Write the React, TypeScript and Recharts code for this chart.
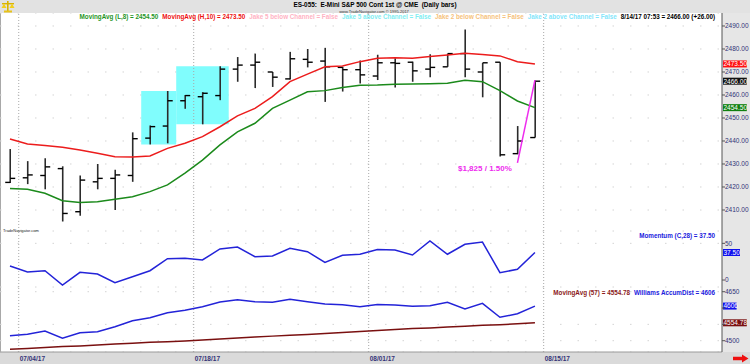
import React from 'react';
import {
  ComposedChart,
  Bar,
  Line,
  XAxis,
  YAxis,
  CartesianGrid,
  ReferenceArea,
  ReferenceLine,
} from 'recharts';

// ---------------- data ----------------
const dates = [
  '07/03/17', '07/04/17', '07/05/17', '07/06/17', '07/07/17',
  '07/10/17', '07/11/17', '07/12/17', '07/13/17', '07/14/17',
  '07/17/17', '07/18/17', '07/19/17', '07/20/17', '07/21/17',
  '07/24/17', '07/25/17', '07/26/17', '07/27/17', '07/28/17',
  '07/31/17', '08/01/17', '08/02/17', '08/03/17', '08/04/17',
  '08/07/17', '08/08/17', '08/09/17', '08/10/17', '08/11/17',
  '08/14/17',
];
const opens = [
  2422, 2424, 2425, 2428, 2409.25, 2422.25, 2423.75, 2425, 2441.25, 2446.5,
  2457.5, 2459.25, 2459.75, 2471.25, 2473, 2470, 2467, 2475.5, 2474.75, 2472,
  2471, 2468.25, 2474, 2474.25, 2471.25, 2472.25, 2478, 2470, 2474.25, 2434.5,
  2441.5,
];
const highs = [
  2436.5, 2431.25, 2432.5, 2429, 2425, 2430, 2427.5, 2443.75, 2446.75, 2461.75,
  2460, 2461.25, 2472.5, 2476.5, 2478, 2470, 2478.75, 2480, 2480.5, 2472.25,
  2475, 2477.5, 2476, 2474.5, 2477.75, 2478, 2488.5, 2474, 2474.25, 2446.5,
  2466.25,
];
const lows = [
  2421.75, 2421.25, 2419, 2405, 2407.5, 2419, 2410, 2422.25, 2438.5, 2439,
  2454, 2447.25, 2457.75, 2465.75, 2463, 2463.5, 2466.75, 2472, 2457, 2461.5,
  2465, 2466.5, 2463.25, 2465.75, 2467.75, 2472.25, 2467.75, 2459, 2433.25, 2434.25,
  2441.5,
];
const closes = [
  2423.75, 2425.25, 2428.75, 2408.5, 2423, 2423.75, 2425.25, 2441, 2446.25, 2457.5,
  2459.75, 2460.75, 2471.25, 2473, 2474.25, 2467.75, 2475.75, 2474.25, 2472.25, 2471,
  2468.75, 2474, 2473.75, 2470.5, 2472, 2478, 2471.25, 2474, 2434, 2440,
  2466,
];
const maHigh10 = [
  2440.9, 2438.7, 2438.0, 2437.3, 2436.1, 2434.7, 2433.2, 2433.0, 2433.5, 2436.8,
  2439.0, 2441.9, 2446.2, 2450.9, 2454.2, 2459.3, 2465.8, 2469.1, 2472.3, 2472.6,
  2474.5, 2476.0, 2476.2, 2476.0, 2476.7, 2477.4, 2478.1, 2477.6, 2477.0, 2474.5,
  2473.5,
];
const maLow8 = [
  2419.4, 2419.0, 2417.3, 2414.0, 2413.3, 2413.6, 2414.7, 2415.8, 2418.0, 2420.9,
  2426.0, 2431.7, 2438.3, 2444.0, 2447.7, 2454.2, 2457.8, 2461.4, 2461.9, 2463.3,
  2464.2, 2464.3, 2464.7, 2464.8, 2464.9, 2465.1, 2466.4, 2465.8, 2461.9, 2457.4,
  2454.5,
];
const swingBars = [29, 30];
const swingPrices = [2430.5, 2466.5];
const momentum = [
  19.1, 10.9, 12.7, -6.8, 10.5, 8.2, -3.7, 4.5, 12.7, 29.1,
  29.6, 27.3, 42.3, 45.0, 31.8, 32.7, 43.2, 38.6, 24.1, 33.7,
  35.1, 41.6, 40.9, 34.1, 53.2, 35.1, 48.7, 51.8, 10.0, 14.6,
  37.5,
];
const accumDist = [
  4515.3, 4519.6, 4529.7, 4507.4, 4524.5, 4527.6, 4542.9, 4561.2, 4570.4, 4585.7,
  4593.1, 4604.1, 4618.5, 4625.5, 4619.4, 4617.6, 4626.7, 4619.4, 4612.4, 4610.2,
  4604.1, 4610.8, 4609.3, 4605.3, 4607.1, 4617.6, 4597.0, 4614.5, 4571.6, 4582.7,
  4606,
];
const accumMA57 = [
  4474, 4476, 4479, 4482, 4484, 4487, 4490, 4492, 4495, 4497,
  4499, 4502, 4505, 4508, 4511, 4514, 4517, 4519, 4522, 4525,
  4528, 4531, 4534, 4537, 4539, 4542, 4544, 4547, 4549, 4552,
  4554.78,
];
const priceTicks = [2410, 2420, 2430, 2440, 2450, 2460, 2470, 2480, 2490];
const momentumTicks = [0, 50];
const accumTicks = [4500, 4550, 4600, 4650];
const dateTickLabels = ['07/04/17', '07/18/17', '08/01/17', '08/15/17'];
const channelBoxes = [
  { first: 8, last: 9 },
  { first: 10, last: 12 },
];

// ---------------- style ----------------
const FONT = '"Liberation Sans", Arial, Helvetica, sans-serif';
const NAVY = '#333377';
const X_DOMAIN: [number, number] = [-0.57, 40.69];
const W = 750;
const AXIS_W = 28;
const last = dates.length - 1;

const tickSlot = (label: string) => {
  const idx = dates.indexOf(label);
  return (idx >= 0 ? idx : dates.length) - 0.5;
};
const dateTickPos = dateTickLabels.map(tickSlot);

function OhlcShape(props: any) {
  const { x, y, width, height, payload } = props;
  if (payload == null || x == null || y == null) return null;
  const cx = x + width / 2;
  const top = Math.min(y, y + height);
  const h = Math.abs(height);
  const span = payload.high - payload.low || 1;
  const yO = top + ((payload.high - payload.open) / span) * h;
  const yC = top + ((payload.high - payload.close) / span) * h;
  return (
    <g>
      <line x1={cx} y1={top} x2={cx} y2={top + h} stroke="#2b2b2b" strokeWidth={1.6} />
      <line x1={cx - 5} y1={yO} x2={cx} y2={yO} stroke="#000" strokeWidth={1.4} />
      <line x1={cx} y1={yC} x2={cx + 5} y2={yC} stroke="#000" strokeWidth={1.4} />
    </g>
  );
}

function valueTag(text: string, bg: string) {
  return (p: any) => {
    const vb = p.viewBox || {};
    if (vb.x == null) return null;
    const x0 = vb.x + vb.width + 1;
    const w = text.length * 3.4;
    return (
      <g>
        <rect x={x0} y={vb.y - 3.5} width={w} height={7} fill={bg} />
        <text x={x0 + 0.5} y={vb.y + 2.4} fontSize={6.5} fill="#fff" fontFamily={FONT}>
          {text}
        </text>
      </g>
    );
  };
}

function DateTick(props: any) {
  const { x, y, payload } = props;
  const k = dateTickPos.indexOf(payload.value);
  return (
    <text x={x + 1} y={y + 9} fontSize={6.5} fontWeight="bold" fill={NAVY} fontFamily={FONT} textAnchor="start">
      {k >= 0 ? dateTickLabels[k] : ''}
    </text>
  );
}

const axisTick = { fontSize: 6.5, fill: NAVY, fontFamily: FONT };

// labels that sit under a value tag are hidden by it (as in the reference)
const hideUnder = (tags: number[], halfRange: number) => (v: number, digits: number) =>
  tags.some((t) => Math.abs(t - v) < halfRange) ? '' : v.toFixed(digits);

export default function App() {
  const rows = dates.map((d, i) => ({
    i,
    date: d,
    open: opens[i],
    high: highs[i],
    low: lows[i],
    close: closes[i],
    hl: [lows[i], highs[i]],
    maH: maHigh10[i],
    maL: maLow8[i],
    zig: swingBars.includes(i) ? swingPrices[swingBars.indexOf(i)] : null,
    mom: momentum[i],
    ad: accumDist[i],
    adMa: accumMA57[i],
  }));

  const boxes = channelBoxes.map((b) => {
    const ls = lows.slice(b.first, b.last + 1);
    const hs = highs.slice(b.first, b.last + 1);
    return { x1: b.first - 0.5, x2: b.last + 0.5, y1: Math.min(...ls), y2: Math.max(...hs) };
  });

  const accumFmt = hideUnder([accumDist[last], accumMA57[last]], 14);

  const change = closes[last] - closes[last - 1];
  const legendTop = [
    { t: `MovingAvg (L,8) = ${maLow8[last].toFixed(2)}`, c: '#1f961f' },
    { t: `MovingAvg (H,10) = ${maHigh10[last].toFixed(2)}`, c: '#ee1111' },
    { t: 'Jake 5 below Channel = False', c: '#ffb3c3' },
    { t: 'Jake 5 above Channel = False', c: '#7feef2' },
    { t: 'Jake 2 below Channel = False', c: '#f6c27c' },
    { t: 'Jake 2 above Channel = False', c: '#84e6fb' },
    { t: `8/14/17 07:53 = ${closes[last].toFixed(2)} (${change >= 0 ? '+' : ''}${change.toFixed(2)})`, c: '#000' },
  ];

  const vlines = (key: string) =>
    dateTickPos.map((p) => (
      <ReferenceLine key={key + p} x={p} stroke="#a9a9a9" strokeDasharray="1 2" />
    ));

  const textStyle: React.CSSProperties = {
    position: 'absolute',
    fontFamily: FONT,
    fontSize: 6.3,
    fontWeight: 'bold',
    whiteSpace: 'nowrap',
    lineHeight: '8px',
  };

  return (
    <div style={{ position: 'absolute', left: 0, top: 0, width: W, height: 364, background: '#fff', overflow: 'hidden', fontFamily: FONT }}>
      {/* header */}
      <div style={{ position: 'absolute', left: 0, top: 0, width: W, height: 13, background: '#e2e2e2' }} />
      <svg style={{ position: 'absolute', left: 1, top: 0 }} width={14} height={13}>
        <rect x={6} y={1} width={1.6} height={10} fill="#d9b400" />
        <rect x={1} y={3} width={12} height={1.4} fill="#d9b400" />
        <path d="M0.5 8 L3 3.5 L5.5 8 Z" fill="#f2cf1c" />
        <path d="M8.5 8 L11 3.5 L13.5 8 Z" fill="#f2cf1c" />
        <rect x={3} y={10.5} width={8} height={2} fill="#e7c21a" />
      </svg>
      <div style={{ ...textStyle, left: 0, width: W, textAlign: 'center', top: 1, color: '#000', fontSize: 6.4 }}>
        ES-055:&nbsp; E-Mini S&amp;P 500 Cont 1st @ CME&nbsp; (Daily bars)
      </div>
      <div style={{ ...textStyle, left: 0, width: W - 2, textAlign: 'center', top: 7.5, fontSize: 4, fontWeight: 'normal', color: '#333' }}>
        www.TradeNavigator.com © 1995-2017
      </div>

      {/* right axis strip and bottom strip */}
      <div style={{ position: 'absolute', left: W - AXIS_W, top: 13, width: AXIS_W, height: 351, background: '#e6e6e6' }} />
      <div style={{ position: 'absolute', left: 0, top: 352, width: W, height: 12, background: '#dadada' }} />
      <div style={{ position: 'absolute', left: 0, top: 13, width: 1, height: 339, background: '#a8a8a8' }} />

      {/* main price panel */}
      <div style={{ position: 'absolute', left: 0, top: 13 }}>
        <ComposedChart width={W} height={218} data={rows} margin={{ top: 0, right: 0, bottom: 0, left: 0 }}>
          <CartesianGrid vertical={false} stroke="#d4d4d4" strokeDasharray="1.5 16" />
          <XAxis dataKey="i" type="number" domain={X_DOMAIN} hide allowDataOverflow />
          <YAxis
            orientation="right"
            width={AXIS_W}
            domain={[2400.87, 2495.65]}
            ticks={priceTicks}
            allowDataOverflow
            tickFormatter={(v: number) => v.toFixed(2)}
            tick={axisTick}
            tickSize={3}
            tickMargin={0}
            axisLine={{ stroke: '#555' }}
            tickLine={{ stroke: '#555' }}
          />
          {vlines('m')}
          {boxes.map((b, k) => (
            <ReferenceArea key={'box' + k} x1={b.x1} x2={b.x2} y1={b.y1} y2={b.y2} fill="#80fdfd" fillOpacity={1} stroke="none" />
          ))}
          <Line dataKey="maH" stroke="#ec1c1c" strokeWidth={1.5} dot={false} isAnimationActive={false} />
          <Line dataKey="maL" stroke="#1b8a1b" strokeWidth={1.5} dot={false} isAnimationActive={false} />
          <Bar dataKey="hl" barSize={12} shape={<OhlcShape />} isAnimationActive={false} />
          <Line dataKey="zig" stroke="#ee2cee" strokeWidth={1.5} dot={false} isAnimationActive={false} />
          <ReferenceLine y={maHigh10[last]} stroke="none" label={{ content: valueTag(maHigh10[last].toFixed(2), '#ff1010') }} />
          <ReferenceLine y={closes[last]} stroke="none" label={{ content: valueTag(closes[last].toFixed(2), '#111') }} />
          <ReferenceLine y={maLow8[last]} stroke="none" label={{ content: valueTag(maLow8[last].toFixed(2), '#0f800f') }} />
        </ComposedChart>
      </div>

      {/* momentum panel */}
      <div style={{ position: 'absolute', left: 0, top: 231 }}>
        <ComposedChart width={W} height={56} data={rows} margin={{ top: 0, right: 0, bottom: 0, left: 0 }}>
          <CartesianGrid vertical={false} stroke="#d4d4d4" strokeDasharray="1.5 16" />
          <XAxis dataKey="i" type="number" domain={X_DOMAIN} hide allowDataOverflow />
          <YAxis
            orientation="right"
            width={AXIS_W}
            domain={[-9.5, 66.8]}
            ticks={momentumTicks}
            allowDataOverflow
            tick={axisTick}
            tickSize={3}
            tickMargin={0}
            axisLine={{ stroke: '#555' }}
            tickLine={{ stroke: '#555' }}
          />
          {vlines('mo')}
          <Line dataKey="mom" stroke="#2323d8" strokeWidth={1.5} dot={false} isAnimationActive={false} />
          <ReferenceLine y={momentum[last]} stroke="none" label={{ content: valueTag(momentum[last].toFixed(2), '#1010ee') }} />
        </ComposedChart>
      </div>

      {/* williams panel */}
      <div style={{ position: 'absolute', left: 0, top: 287 }}>
        <ComposedChart width={W} height={77} data={rows} margin={{ top: 0, right: 0, bottom: 0, left: 0 }}>
          <CartesianGrid vertical={false} stroke="#d4d4d4" strokeDasharray="1.5 16" />
          <XAxis
            dataKey="i"
            type="number"
            domain={X_DOMAIN}
            allowDataOverflow
            ticks={dateTickPos}
            interval={0}
            height={12}
            tickSize={0}
            tickMargin={0}
            tickLine={false}
            axisLine={{ stroke: '#9a9a9a' }}
            tick={<DateTick />}
          />
          <YAxis
            orientation="right"
            width={AXIS_W}
            domain={[4465.4, 4664.4]}
            ticks={accumTicks}
            allowDataOverflow
            tickFormatter={(v: number) => accumFmt(v, 0)}
            tick={axisTick}
            tickSize={3}
            tickMargin={0}
            axisLine={{ stroke: '#555' }}
            tickLine={{ stroke: '#555' }}
          />
          {vlines('w')}
          <Line dataKey="adMa" stroke="#7a1010" strokeWidth={1.5} dot={false} isAnimationActive={false} />
          <Line dataKey="ad" stroke="#2323d8" strokeWidth={1.5} dot={false} isAnimationActive={false} />
          <ReferenceLine y={accumDist[last]} stroke="none" label={{ content: valueTag(accumDist[last].toFixed(0), '#1010ee') }} />
          <ReferenceLine y={accumMA57[last]} stroke="none" label={{ content: valueTag(accumMA57[last].toFixed(2), '#7a1010') }} />
        </ComposedChart>
      </div>

      {/* legends */}
      <div style={{ ...textStyle, right: 35, top: 13, display: 'flex', gap: 4 }}>
        {legendTop.map((l) => (
          <span key={l.t} style={{ color: l.c }}>{l.t}</span>
        ))}
      </div>
      <div style={{ ...textStyle, right: 35, top: 232, color: '#2020dd' }}>
        {`Momentum (C,28) = ${momentum[last].toFixed(2)}`}
      </div>
      <div style={{ ...textStyle, right: 35, top: 289, display: 'flex', gap: 4 }}>
        <span style={{ color: '#8b1a1a' }}>{`MovingAvg (57) = ${accumMA57[last].toFixed(2)}`}</span>
        <span style={{ color: '#2020dd' }}>{`Williams AccumDist = ${accumDist[last].toFixed(0)}`}</span>
      </div>
      <div style={{ ...textStyle, left: 458, top: 164, fontSize: 8, lineHeight: '9px', color: '#ee2cee' }}>
        $1,825 / 1.50%
      </div>
      <div style={{ ...textStyle, left: 3, top: 227, fontSize: 4, fontWeight: 'normal', color: '#222' }}>
        TradeNavigator.com
      </div>

      {/* scroll arrow */}
      <svg style={{ position: 'absolute', left: 733, top: 354 }} width={16} height={9}>
        <path d="M0 2.8 H9 V0.5 L15.5 4.5 L9 8.5 V6.2 H0 Z" fill="#ee1010" />
      </svg>
    </div>
  );
}
